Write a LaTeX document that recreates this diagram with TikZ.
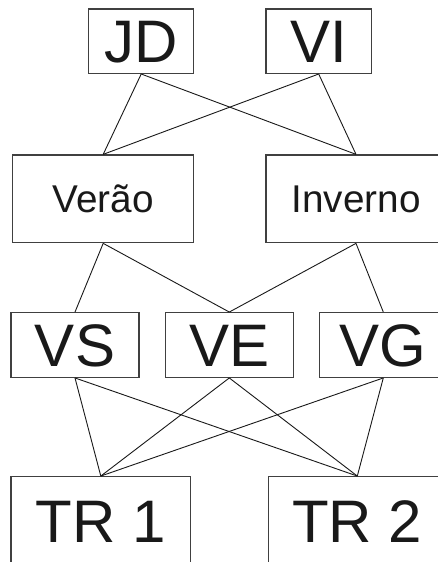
\documentclass[tikz,border=0pt]{standalone}
\usepackage{fontspec}
\setmainfont{Liberation Sans}
\begin{document}
\begin{tikzpicture}[x=1pt,y=-1pt,
  box/.style={draw=black!75,line width=1.3pt,rectangle,inner sep=0pt,
    text depth=0pt,text=black!90},
  big/.style={font=\fontsize{60}{72}\selectfont,text height=43pt},
  mid/.style={font=\fontsize{38.7}{46}\selectfont,text height=27.7pt},
  link/.style={draw=black!90,line width=0.9pt}]
\clip (0,0) rectangle (438,562);
\fill[white] (0,0) rectangle (438,562);
\node[box,big,minimum width=105pt,minimum height=64.3pt] (JD) at (141.2,41.2) {JD};
\node[box,big,minimum width=105.3pt,minimum height=64.3pt] (VI) at (318.7,41.2) {VI};
\node[box,mid,minimum width=181pt,minimum height=87.7pt] (Ver) at (103.2,198.85) {Verão};
\node[box,mid,minimum width=180pt,minimum height=87.7pt] (Inv) at (356,198.85) {Inverno};
\node[box,big,minimum width=128pt,minimum height=64.6pt] (VS) at (75,345) {VS};
\node[box,big,minimum width=128pt,minimum height=64.6pt] (VE) at (229.3,345) {VE};
\node[box,big,minimum width=128pt,minimum height=64.6pt] (VG) at (383.3,345) {VG};
\node[box,big,minimum width=179.7pt,minimum height=88.6pt] (TR1) at (100.8,521) {TR 1};
\node[box,big,minimum width=178pt,minimum height=88.6pt] (TR2) at (357.3,521) {TR 2};
\draw[link] (JD.south) -- (Ver.north);
\draw[link] (JD.south) -- (Inv.north);
\draw[link] (VI.south) -- (Ver.north);
\draw[link] (VI.south) -- (Inv.north);
\draw[link] (Ver.south) -- (VS.north);
\draw[link] (Ver.south) -- (VE.north);
\draw[link] (Inv.south) -- (VE.north);
\draw[link] (Inv.south) -- (VG.north);
\draw[link] (VS.south) -- (TR1.north);
\draw[link] (VS.south) -- (TR2.north);
\draw[link] (VE.south) -- (TR1.north);
\draw[link] (VE.south) -- (TR2.north);
\draw[link] (VG.south) -- (TR1.north);
\draw[link] (VG.south) -- (TR2.north);
\end{tikzpicture}
\end{document}
